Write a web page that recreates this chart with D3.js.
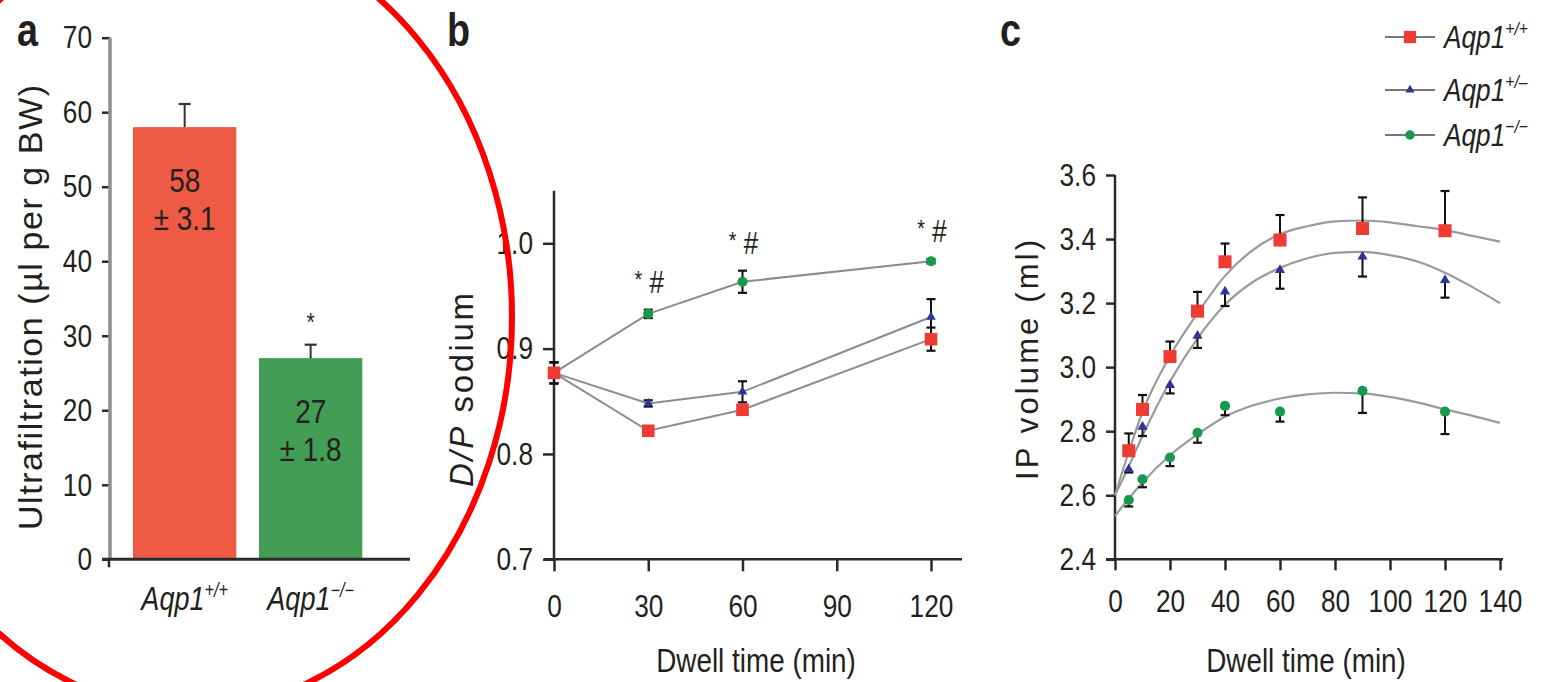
<!DOCTYPE html>
<html>
<head>
<meta charset="utf-8">
<script src="https://cdn.jsdelivr.net/npm/d3@7"></script>
<style>
  html, body { margin: 0; padding: 0; background: #fff; }
  svg { display: block; }
</style>
</head>
<body>
<svg id="fig" width="1542" height="682"></svg>
<script>
// ---------- data: panel a (ultrafiltration, µl per g BW) ----------
const genotypeBase = "Aqp1";
const genotypesA = ["+/+", "\u2212/\u2212"];
const ufMean = [58, 27];
const ufSem = [3.1, 1.8];
const ufSig = ["", "*"];
const ufTicks = [0, 10, 20, 30, 40, 50, 60, 70];

// ---------- data: panel b (D/P sodium vs dwell time) ----------
const timeB = [0, 30, 60, 120];
const dpWT  = [0.877, 0.822, 0.842, 0.909];
const dpWTerr  = [0.010, 0.003, 0.003, 0.011];
const dpHet = [0.877, 0.848, 0.859, 0.930];
const dpHeterr = [0.010, 0.003, 0.010, 0.017];
const dpKO  = [0.877, 0.933, 0.9635, 0.983];
const dpKOerr  = [0.010, 0.004, 0.0105, 0.002];
const dpKOsig = [null, ["*", "#"], ["*", "#"], ["*", "#"]];
const ticksBx = [0, 30, 60, 90, 120];
const ticksBy = [0.7, 0.8, 0.9, 1.0];

// ---------- data: panel c (IP volume vs dwell time) ----------
const timeC = [5, 10, 20, 30, 40, 60, 90, 120];
const volWT  = [2.739, 2.868, 3.033, 3.175, 3.329, 3.397, 3.433, 3.426];
const volWTerr  = [0.054, 0.045, 0.047, 0.060, 0.057, 0.078, 0.097, 0.124];
const volHet = [2.681, 2.814, 2.944, 3.098, 3.236, 3.303, 3.345, 3.272];
const volHeterr = [0.010, 0.029, 0.026, 0.038, 0.045, 0.058, 0.062, 0.055];
const volKO  = [2.585, 2.650, 2.718, 2.795, 2.879, 2.861, 2.926, 2.861];
const volKOerr  = [0.020, 0.025, 0.027, 0.031, 0.029, 0.031, 0.069, 0.070];
// fitted curves, sampled along dwell time
const fitTime = [0, 5, 10, 20, 30, 40, 50, 60, 70, 80, 90, 100, 110, 120, 130, 140];
const fitWT  = [2.600, 2.735, 2.860, 3.035, 3.168, 3.285, 3.365, 3.415, 3.440, 3.455, 3.458, 3.452, 3.440, 3.428, 3.410, 3.392];
const fitHet = [2.600, 2.690, 2.785, 2.955, 3.090, 3.195, 3.265, 3.310, 3.340, 3.357, 3.360, 3.350, 3.330, 3.295, 3.250, 3.200];
const fitKO  = [2.535, 2.590, 2.640, 2.725, 2.790, 2.845, 2.880, 2.902, 2.915, 2.920, 2.918, 2.907, 2.890, 2.868, 2.848, 2.826];
const ticksCx = [0, 20, 40, 60, 80, 100, 120, 140];
const ticksCy = [2.4, 2.6, 2.8, 3.0, 3.2, 3.4, 3.6];
const legendSupers = ["+/+", "+/\u2013", "\u2212/\u2212"];

// ---------- styling ----------
const FONT = "'Liberation Sans', Arial, Helvetica, sans-serif";
const SX = 0.82;            // horizontal squeeze giving a condensed face
const INK = "#231f20";
const AXIS = "#2a2a2a";
const barColors = ["#ef5a45", "#449d55"];
const cRed = "#ee3b34", cBlue = "#2e3592", cGreen = "#16994c";
const lineGray = "#8c8c8c";

const svg = d3.select("#fig");
svg.append("rect").attr("width", 1542).attr("height", 682).attr("fill", "#fff");

// text placed at (x, y), optionally rotated; condensed unless sx is given
function ctext(parent, x, y, opts = {}) {
  const rot = opts.rotate ? ` rotate(${opts.rotate})` : "";
  const sx = opts.sx || SX;
  const t = parent.append("text")
    .attr("transform", `translate(${x},${y})${rot} scale(${sx},1)`)
    .attr("font-family", FONT)
    .attr("font-size", opts.size || 30)
    .attr("fill", INK)
    .attr("text-anchor", opts.anchor || "start");
  if (opts.italic) t.attr("font-style", "italic");
  if (opts.bold) t.attr("font-weight", "bold");
  if (opts.baseline) t.attr("dominant-baseline", opts.baseline);
  if (opts.length) t.attr("textLength", opts.length / sx).attr("lengthAdjust", "spacing");
  if (opts.text !== undefined) t.text(opts.text);
  return t;
}

function styleAxis(g, size) {
  g.attr("font-family", FONT).attr("font-size", size).attr("color", INK);
  g.select(".domain").remove();
  g.selectAll(".tick line").attr("stroke", AXIS).attr("stroke-width", 2.5);
  g.selectAll(".tick text").attr("fill", INK).each(function () {
    const t = d3.select(this);
    const x = +t.attr("x") || 0, y = +t.attr("y") || 0;
    t.attr("x", 0).attr("y", 0).attr("transform", `translate(${x},${y}) scale(${SX},1)`);
  });
}

function genotypeLabel(sel, x, y, sup, size, anchor) {
  const t = ctext(sel, x, y, { size, anchor, italic: true });
  t.append("tspan").text(genotypeBase);
  t.append("tspan").attr("font-size", size * 0.6).attr("dy", -size * 0.4).text(sup);
  return t;
}

function errorBar(g, x, y0, y1, cap, color) {
  g.append("line").attr("x1", x).attr("x2", x).attr("y1", y0).attr("y2", y1)
    .attr("stroke", color).attr("stroke-width", 2);
  g.append("line").attr("x1", x - cap / 2).attr("x2", x + cap / 2).attr("y1", y1).attr("y2", y1)
    .attr("stroke", color).attr("stroke-width", 2.2);
}

const symSquare = d3.symbol().type(d3.symbolSquare);
const symTri = d3.symbol().type(d3.symbolTriangle);
const symCircle = d3.symbol().type(d3.symbolCircle);

// panel letters
[["a", 17], ["b", 447], ["c", 1000]].forEach(([s, x]) => {
  ctext(svg, x, 46, { size: 46, bold: true, text: s });
});

// ================= panel a =================
const gA = svg.append("g");
const ya = d3.scaleLinear().domain([0, 70]).range([559.3, 37.7]);
const xa = d3.scaleBand().domain(genotypesA).range([120.4, 374.9]).paddingInner(0.18).paddingOuter(0.1);

gA.append("g").attr("transform", "translate(110,0)")
  .call(d3.axisLeft(ya).tickValues(ufTicks).tickSize(8).tickPadding(10))
  .call(g => styleAxis(g, 32));
gA.append("line").attr("x1", 110).attr("x2", 110).attr("y1", ya(70)).attr("y2", ya(0))
  .attr("stroke", "#8f8f8f").attr("stroke-width", 3.5);

gA.selectAll("rect.bar").data(ufMean).join("rect")
  .attr("class", "bar")
  .attr("x", (d, i) => xa(genotypesA[i]))
  .attr("y", d => ya(d))
  .attr("width", xa.bandwidth())
  .attr("height", d => ya(0) - ya(d))
  .attr("fill", (d, i) => barColors[i]);

ufMean.forEach((m, i) => {
  const cx = xa(genotypesA[i]) + xa.bandwidth() / 2;
  errorBar(gA, cx, ya(m), ya(m + ufSem[i]), 12, "#333");
  ctext(gA, cx, ya(m) + 65, { size: 34, anchor: "middle", text: m });
  ctext(gA, cx, ya(m) + 103, { size: 34, anchor: "middle", text: "\u00b1 " + ufSem[i].toFixed(1) });
  if (ufSig[i]) {
    ctext(gA, cx, ya(m + ufSem[i]) - 14, { size: 26, anchor: "middle", text: ufSig[i] });
  }
  genotypeLabel(gA, cx, 610, genotypesA[i], 33, "middle");
});

// baseline
gA.append("line").attr("x1", 102).attr("x2", 410).attr("y1", ya(0)).attr("y2", ya(0))
  .attr("stroke", AXIS).attr("stroke-width", 3);
gA.append("line").attr("x1", 109).attr("x2", 109).attr("y1", ya(0)).attr("y2", ya(0) + 8)
  .attr("stroke", AXIS).attr("stroke-width", 2.5);

ctext(gA, 30, 307.5, { rotate: -90, size: 34, sx: 1, anchor: "middle", baseline: "central",
  length: 445, text: "Ultrafiltration (\u00b5l per g BW)" });

// ================= panel b =================
const gB = svg.append("g");
const xb = d3.scaleLinear().domain([0, 120]).range([554, 931]);
const yb = d3.scaleLinear().domain([0.7, 1.0]).range([559.3, 243.3]);

gB.append("g").attr("transform", "translate(554,0)")
  .call(d3.axisLeft(yb).tickValues(ticksBy).tickSize(11).tickPadding(10).tickFormat(d3.format(".1f")))
  .call(g => styleAxis(g, 32));
gB.append("g").attr("transform", "translate(0,559.3)")
  .call(d3.axisBottom(xb).tickValues(ticksBx).tickSize(12).tickPadding(8))
  .call(g => g.selectAll(".tick text").attr("y", 46).attr("dy", "0.35em"))
  .call(g => styleAxis(g, 32));
gB.append("line").attr("x1", 554).attr("x2", 554).attr("y1", yb(1.05)).attr("y2", yb(0.7))
  .attr("stroke", AXIS).attr("stroke-width", 2.5);
gB.append("line").attr("x1", 544).attr("x2", 962).attr("y1", yb(0.7)).attr("y2", yb(0.7))
  .attr("stroke", AXIS).attr("stroke-width", 2.5);

const seriesB = [
  { v: dpKO, e: dpKOerr, color: cGreen, sym: symCircle, size: 80 },
  { v: dpHet, e: dpHeterr, color: cBlue, sym: symTri, size: 40 },
  { v: dpWT, e: dpWTerr, color: cRed, sym: symSquare, size: 160 }
];
const lineB = d3.line().x(d => xb(d[0])).y(d => yb(d[1]));
seriesB.forEach(s => {
  gB.append("path").attr("d", lineB(timeB.map((t, i) => [t, s.v[i]])))
    .attr("fill", "none").attr("stroke", lineGray).attr("stroke-width", 2);
});
seriesB.forEach(s => {
  timeB.forEach((t, i) => {
    const x = xb(t);
    errorBar(gB, x, yb(s.v[i]), yb(s.v[i] + s.e[i]), 9, "#111");
    errorBar(gB, x, yb(s.v[i]), yb(s.v[i] - s.e[i]), 9, "#111");
  });
});
seriesB.forEach(s => {
  gB.selectAll(null).data(timeB).join("path")
    .attr("d", s.sym.size(s.size))
    .attr("transform", (t, i) => `translate(${xb(t)},${yb(s.v[i])})`)
    .attr("fill", s.color);
});
dpKOsig.forEach((sig, i) => {
  if (!sig) return;
  const x = xb(timeB[i]);
  const y = yb(dpKO[i] + dpKOerr[i]) - 28;
  ctext(gB, x - 10, y - 2, { size: 24, anchor: "middle", baseline: "central", text: sig[0] });
  ctext(gB, x + 8, y, { size: 32, anchor: "middle", baseline: "central", italic: true, text: sig[1] });
});

const tb = ctext(gB, 461, 390, { rotate: -90, size: 33, sx: 1, anchor: "middle", baseline: "central", length: 194 });
tb.append("tspan").attr("font-style", "italic").text("D/P");
tb.append("tspan").text(" sodium");

ctext(gB, 756, 672, { size: 34, anchor: "middle", text: "Dwell time (min)" });

// ================= panel c =================
const gC = svg.append("g");
const xc = d3.scaleLinear().domain([0, 140]).range([1115, 1500]);
const yc = d3.scaleLinear().domain([2.4, 3.6]).range([559.3, 175]);

gC.append("g").attr("transform", "translate(1115,0)")
  .call(d3.axisLeft(yc).tickValues(ticksCy).tickSize(9).tickPadding(10).tickFormat(d3.format(".1f")))
  .call(g => styleAxis(g, 32));
gC.append("g").attr("transform", "translate(0,559.3)")
  .call(d3.axisBottom(xc).tickValues(ticksCx).tickSize(11).tickPadding(8))
  .call(g => g.selectAll(".tick text").attr("y", 41).attr("dy", "0.35em"))
  .call(g => styleAxis(g, 32));
gC.append("line").attr("x1", 1115).attr("x2", 1115).attr("y1", yc(3.6)).attr("y2", yc(2.4))
  .attr("stroke", AXIS).attr("stroke-width", 2.5);
gC.append("line").attr("x1", 1106).attr("x2", 1503).attr("y1", yc(2.4)).attr("y2", yc(2.4))
  .attr("stroke", AXIS).attr("stroke-width", 2.5);

const fitLine = d3.line().x(d => xc(d[0])).y(d => yc(d[1])).curve(d3.curveMonotoneX);
[fitKO, fitHet, fitWT].forEach(f => {
  gC.append("path").attr("d", fitLine(fitTime.map((t, i) => [t, f[i]])))
    .attr("fill", "none").attr("stroke", "#9a9a9a").attr("stroke-width", 2.2);
});

const seriesC = [
  { v: volKO, e: volKOerr, dir: -1, color: cGreen, sym: symCircle, size: 80 },
  { v: volHet, e: volHeterr, dir: -1, color: cBlue, sym: symTri, size: 45 },
  { v: volWT, e: volWTerr, dir: 1, color: cRed, sym: symSquare, size: 170 }
];
seriesC.forEach(s => {
  timeC.forEach((t, i) => {
    errorBar(gC, xc(t), yc(s.v[i]), yc(s.v[i] + s.dir * s.e[i]), 9, "#111");
  });
});
seriesC.forEach(s => {
  gC.selectAll(null).data(timeC).join("path")
    .attr("d", s.sym.size(s.size))
    .attr("transform", (t, i) => `translate(${xc(t)},${yc(s.v[i])})`)
    .attr("fill", s.color);
});

ctext(gC, 1027, 360, { rotate: -90, size: 31, sx: 1, anchor: "middle", baseline: "central",
  length: 240, text: "IP volume (ml)" });

ctext(gC, 1306, 672, { size: 34, anchor: "middle", text: "Dwell time (min)" });

// legend
const legendRows = [
  { sup: legendSupers[0], color: cRed, sym: symSquare, size: 150, y: 37 },
  { sup: legendSupers[1], color: cBlue, sym: symTri, size: 35, y: 90 },
  { sup: legendSupers[2], color: cGreen, sym: symCircle, size: 70, y: 135 }
];
legendRows.forEach(r => {
  svg.append("line").attr("x1", 1385).attr("x2", 1435).attr("y1", r.y).attr("y2", r.y)
    .attr("stroke", "#777").attr("stroke-width", 2);
  svg.append("path").attr("d", r.sym.size(r.size))
    .attr("transform", `translate(1410,${r.y})`).attr("fill", r.color);
  genotypeLabel(svg, 1444, r.y + 11, r.sup, 32, "start");
});

// highlight ring drawn over panel a
svg.append("ellipse")
  .attr("cx", 190).attr("cy", 317).attr("rx", 322).attr("ry", 393)
  .attr("fill", "none").attr("stroke", "#ff0000").attr("stroke-width", 6);
</script>
</body>
</html>
